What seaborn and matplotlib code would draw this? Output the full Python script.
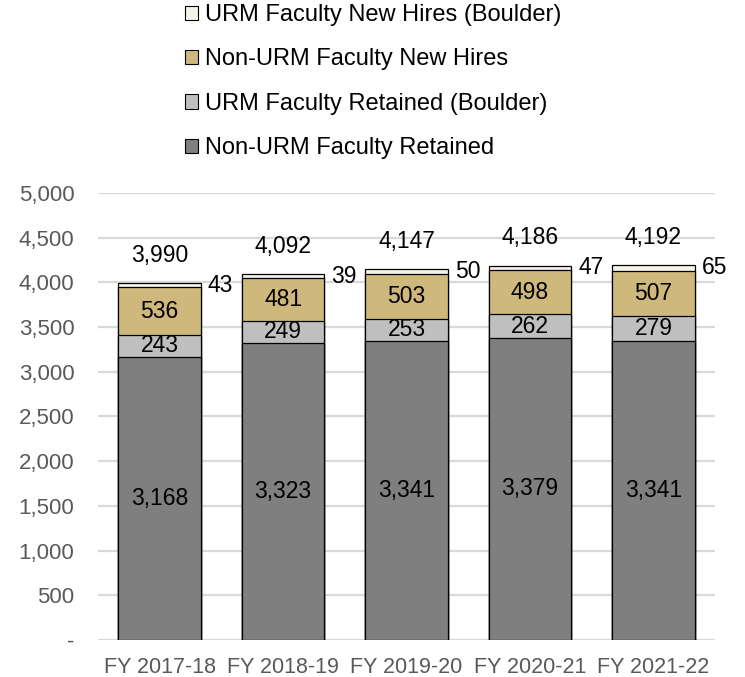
import numpy as np
import pandas as pd
import matplotlib
matplotlib.use('Agg')
import matplotlib.pyplot as plt
import seaborn as sns
from matplotlib.patches import Patch
from matplotlib.ticker import FuncFormatter

# data
years = ['FY 2017-18', 'FY 2018-19', 'FY 2019-20', 'FY 2020-21', 'FY 2021-22']
nonurm_retained = [3168, 3323, 3341, 3379, 3341]
urm_retained = [243, 249, 253, 262, 279]
nonurm_new = [536, 481, 503, 498, 507]
urm_new = [43, 39, 50, 47, 65]

series_names = ['Non-URM Faculty Retained', 'URM Faculty Retained (Boulder)',
                'Non-URM Faculty New Hires', 'URM Faculty New Hires (Boulder)']
colors = ['#7f7f7f', '#bfbfbf', '#cfb87c', '#f4f2e9']

df = pd.DataFrame({'year': years,
                   series_names[0]: nonurm_retained,
                   series_names[1]: urm_retained,
                   series_names[2]: nonurm_new,
                   series_names[3]: urm_new})
cum = df[series_names].cumsum(axis=1)

sns.set_style('white')
plt.rcParams['font.family'] = ['Liberation Sans', 'DejaVu Sans']

fig = plt.figure(figsize=(7.45, 6.77), dpi=100)
ax = fig.add_axes([0.1315, 0.0547, 0.8285, 0.6603])

# stacked bars: draw cumulative totals from tallest to shortest
for name, col in reversed(list(zip(series_names, colors))):
    sns.barplot(x=df['year'], y=cum[name], color=col, width=0.67,
                edgecolor='black', linewidth=0.9, saturation=1, ax=ax, zorder=3)

# labels inside the three lower segments
for i in range(len(years)):
    base = 0
    for name in series_names[:3]:
        v = df[name][i]
        ax.text(i, base + v / 2, f'{v:,}', ha='center', va='center',
                fontsize=16.5, color='black', zorder=5)
        base += v
    total = cum[series_names[3]][i]
    ax.text(i + 0.39, total - 25, f'{df[series_names[3]][i]:,}', ha='left', va='center',
            fontsize=16.5, color='black', zorder=5)
    ax.annotate(f'{total:,}', (i, total), xytext=(0, 20), textcoords='offset points',
                ha='center', va='center', fontsize=16.5, color='black')

ax.set_ylim(0, 5000)
ax.set_xlim(-0.5, 4.5)
ax.set_yticks(np.arange(0, 5001, 500))
ax.yaxis.set_major_formatter(FuncFormatter(lambda v, p: '-' if v == 0 else f'{int(v):,}'))
ax.grid(axis='y', color='#d9d9d9', linewidth=1.6, zorder=0)
ax.set_axisbelow(True)
sns.despine(ax=ax, left=True, bottom=True)
ax.set_xlabel('')
ax.set_ylabel('')
ax.tick_params(axis='both', length=0)
ax.tick_params(axis='y', labelsize=16, labelcolor='#595959', pad=17)
ax.tick_params(axis='x', labelsize=15.5, labelcolor='#595959', pad=12)

handles = [Patch(facecolor=c, edgecolor='black', linewidth=0.8) for c in colors]
fig.legend(handles[::-1], series_names[::-1], loc='upper left',
           bbox_to_anchor=(0.248, 0.994), frameon=False, fontsize=17,
           handlelength=0.55, handleheight=0.55, handletextpad=0.3,
           labelspacing=0.95, borderpad=0.0, borderaxespad=0.0,
           labelcolor='black')

fig.savefig('out.png', dpi=100)
